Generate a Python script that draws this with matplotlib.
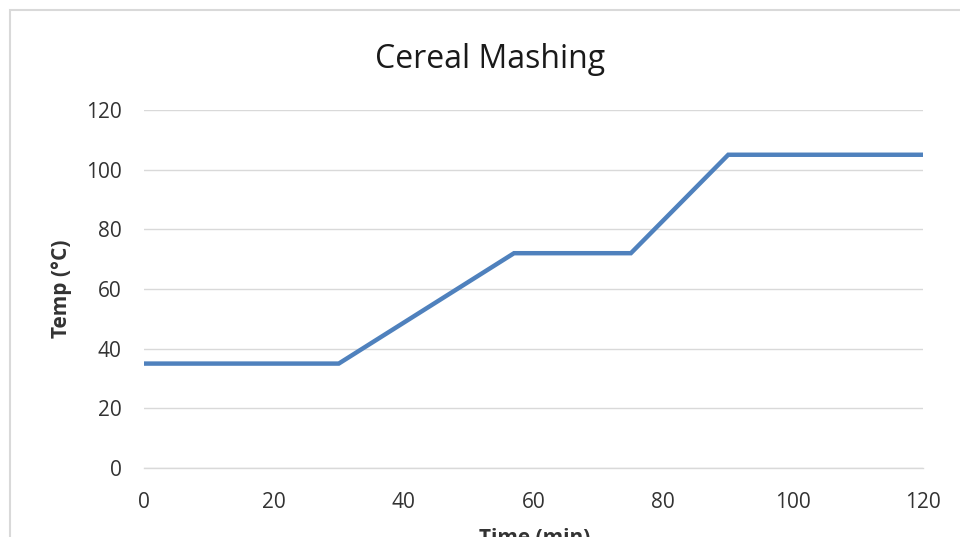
import matplotlib
matplotlib.use("Agg")
import matplotlib.pyplot as plt
from matplotlib.patches import Rectangle

time_min = [0, 30, 57, 75, 90, 120]
temp_c = [35, 35, 72, 72, 105, 105]
x_ticks = [0, 20, 40, 60, 80, 100, 120]
y_ticks = [0, 20, 40, 60, 80, 100, 120]

plt.rcParams['font.family'] = ['Open Sans', 'DejaVu Sans']

fig = plt.figure(figsize=(9.6, 5.37), dpi=100)
ax = fig.add_axes([144/960, 69/537, (923-144)/960, (468-110)/537])

# chart area border
fig.patches.append(Rectangle((10/960, -0.1), 1.2, 1 - 10/537 + 0.1,
                             transform=fig.transFigure, fill=False,
                             edgecolor='#d9d9d9', linewidth=1.5))

ax.plot(time_min, temp_c, color='#4f81bd', linewidth=3.2, solid_joinstyle='miter')
ax.set_xlim(0, 120)
ax.set_ylim(0, 120)
ax.set_xticks(x_ticks)
ax.set_yticks(y_ticks)
ax.grid(axis='y', color='#d9d9d9', linewidth=1.0)
ax.set_axisbelow(True)
for s in ['top', 'right', 'left']:
    ax.spines[s].set_visible(False)
ax.spines['bottom'].set_color('#d9d9d9')
ax.spines['bottom'].set_linewidth(1.0)
ax.tick_params(length=0, labelsize=15, colors='#333333')
ax.tick_params(axis='x', pad=17)
ax.tick_params(axis='y', pad=16)

fig.text(62/960, 1 - 289/537, 'Temp (°C)', rotation=90, ha='center', va='center',
         fontsize=15, fontweight='bold', color='#333333')
fig.text(535/960, 1 - 538/537, 'Time (min)', ha='center', va='center',
         fontsize=15, fontweight='bold', color='#333333')
fig.text(490/960, 1 - 60/537, 'Cereal Mashing', ha='center', va='center',
         fontsize=23, color='#1a1a1a')

fig.savefig('out.png', dpi=100)
